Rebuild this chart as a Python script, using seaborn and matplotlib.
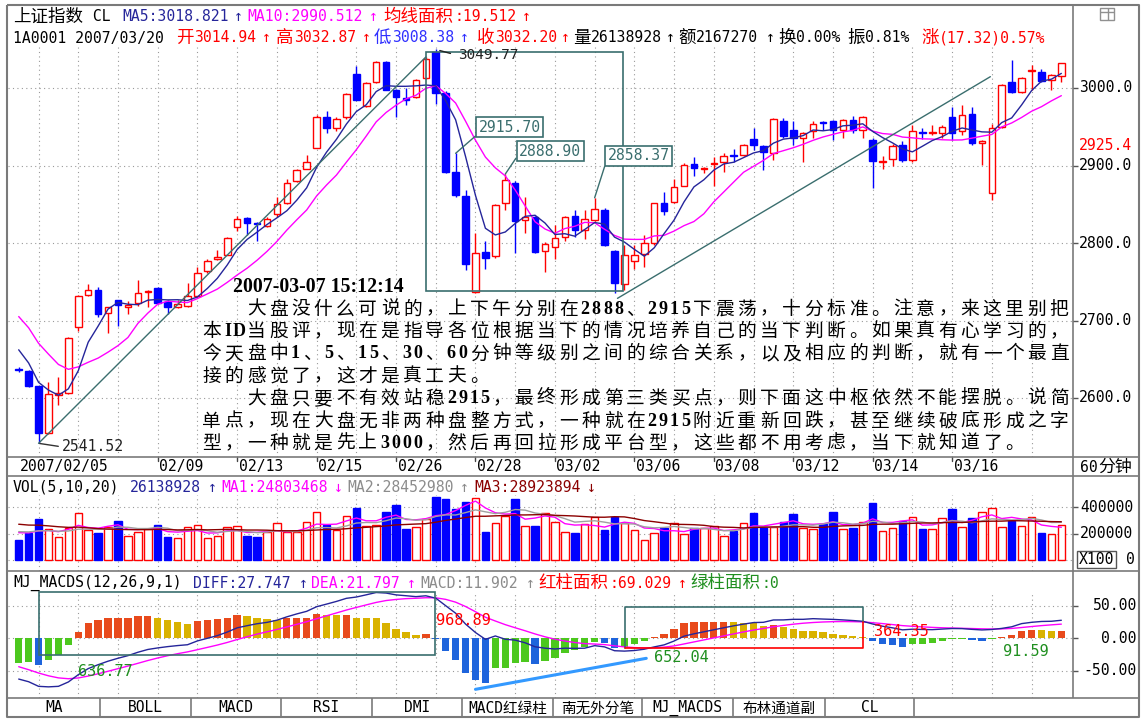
import numpy as np
import pandas as pd
import matplotlib
matplotlib.use("Agg")
import matplotlib.pyplot as plt
from matplotlib.patches import Rectangle
import seaborn as sns

sns.set_theme(style="white")
plt.rcParams['font.family'] = ['DejaVu Sans', 'Noto Sans CJK SC']
plt.rcParams['axes.unicode_minus'] = False

# ---------------- data (60-minute bars, 上证指数) ----------------
opens = [2638, 2635, 2615, 2555, 2604, 2607, 2691, 2733, 2739, 2710,
         2726, 2718, 2722, 2737, 2742, 2724, 2718, 2719, 2731, 2764,
         2779, 2785, 2821, 2832, 2826, 2822, 2837, 2852, 2880, 2896,
         2923, 2963, 2948, 2962, 3018, 2977, 3008, 3033, 2997, 2987,
         2988, 3013, 3046, 2994, 2891, 2861, 2737, 2788, 2783, 2852,
         2878, 2830, 2833, 2790, 2795, 2808, 2835, 2817, 2830, 2843,
         2790, 2747, 2777, 2786, 2800, 2851, 2853, 2874, 2902, 2896,
         2902, 2904, 2913, 2914, 2934, 2925, 2916, 2958, 2946, 2936,
         2944, 2956, 2957, 2946, 2959, 2946, 2933, 2905, 2908, 2926,
         2907, 2943, 2942, 2942, 2963, 2944, 2967, 2929, 2864, 2950,
         3008, 2995, 3022, 3021, 3010, 3014.94]
highs = [2640, 2636, 2616, 2621, 2627, 2679, 2733, 2747, 2743, 2718,
         2727, 2725, 2752, 2740, 2743, 2726, 2726, 2748, 2769, 2780,
         2791, 2808, 2835, 2833, 2827, 2833, 2860, 2883, 2896, 2913,
         2965, 2970, 2962, 2994, 3028, 3008, 3035, 3035, 2999, 3000,
         3012, 3040, 3049.77, 2996, 2915.70, 2868, 2813, 2802, 2850, 2888.90,
         2880, 2860, 2835, 2801, 2823, 2835, 2842, 2843, 2858.37, 2845,
         2791, 2797, 2797, 2810, 2852, 2866, 2883, 2903, 2911, 2898,
         2911, 2916, 2921, 2928, 2948, 2926, 2961, 2961, 2957, 2943,
         2957, 2958, 2959, 2960, 2964, 2964, 2935, 2912, 2928, 2932,
         2952, 2948, 2952, 2952, 2976, 2978, 2975, 2933, 2954, 3005,
         3036, 3014, 3030, 3024, 3018, 3032.87]
lows = [2634, 2614, 2541.52, 2554, 2591, 2605, 2686, 2731, 2705, 2684,
        2693, 2709, 2719, 2718, 2721, 2708, 2716, 2717, 2730, 2761,
        2778, 2784, 2815, 2810, 2803, 2821, 2833, 2850, 2879, 2895,
        2922, 2942, 2945, 2960, 2984, 2975, 3007, 2997, 2962, 2978,
        2987, 3012, 2980, 2890, 2860, 2765, 2735, 2767, 2781, 2843,
        2787, 2813, 2787, 2762, 2779, 2802, 2808, 2805, 2828, 2796,
        2735, 2740, 2767, 2769, 2798, 2836, 2852, 2873, 2886, 2890,
        2873, 2892, 2905, 2912, 2920, 2894, 2907, 2935, 2926, 2905,
        2935, 2946, 2933, 2935, 2942, 2936, 2871, 2896, 2900, 2904,
        2905, 2934, 2939, 2935, 2933, 2940, 2927, 2901, 2855, 2948,
        2994, 2993, 2997, 3008, 2998, 3008.38]
closes = [2636, 2615, 2555, 2605, 2607, 2677, 2732, 2739, 2709, 2717,
          2720, 2720, 2736, 2738, 2722, 2717, 2721, 2731, 2761, 2777,
          2782, 2807, 2831, 2826, 2824, 2831, 2850, 2877, 2894, 2904,
          2963, 2948, 2960, 2992, 2985, 3007, 3033, 2998, 2988, 2985,
          3010, 3038, 2993, 2892, 2862, 2773, 2787, 2781, 2849, 2881,
          2828, 2833, 2788, 2799, 2807, 2833, 2817, 2831, 2844, 2797,
          2749, 2785, 2784, 2800, 2851, 2841, 2872, 2901, 2897, 2897,
          2903, 2912, 2912, 2927, 2927, 2918, 2960, 2938, 2935, 2942,
          2954, 2955, 2946, 2959, 2946, 2963, 2906, 2906, 2925, 2907,
          2944, 2942, 2943, 2950, 2942, 2965, 2929, 2931, 2948, 3004,
          2995, 3013, 3023, 3009, 3017, 3032.20]
prior_closes = [2760, 2755, 2745, 2740, 2740, 2700, 2680, 2655, 2640]

volumes = [151000, 201000, 307000, 234000, 176000, 239000, 352000, 226000, 206000, 251000,
           294000, 183000, 214000, 234000, 264000, 176000, 164000, 247000, 262000, 168000,
           183000, 247000, 257000, 183000, 176000, 214000, 277000, 214000, 214000, 284000,
           365000, 264000, 226000, 335000, 395000, 259000, 264000, 360000, 415000, 231000,
           247000, 307000, 473000, 458000, 382000, 440000, 470000, 214000, 277000, 332000,
           458000, 259000, 257000, 357000, 284000, 214000, 206000, 269000, 327000, 226000,
           327000, 277000, 226000, 151000, 206000, 244000, 277000, 194000, 239000, 239000,
           257000, 181000, 221000, 277000, 352000, 251000, 247000, 284000, 345000, 239000,
           231000, 269000, 360000, 234000, 244000, 284000, 432000, 221000, 239000, 297000,
           327000, 231000, 231000, 319000, 385000, 247000, 319000, 360000, 390000, 247000,
           294000, 257000, 322000, 201000, 194000, 261389]
prior_volumes = [330000, 320000, 340000, 310000, 330000, 320000, 330000, 320000, 330000, 330000,
                 220000, 225000, 220000, 222000, 222000, 210000, 230000, 220000, 220000]

macd_hist = [-38, -37, -41, -34, -26, -10, 10, 23, 28, 31,
             32, 32, 34, 34, 31, 28, 25, 22, 27, 28,
             29, 32, 36, 34, 32, 29, 28.5, 31, 32, 32,
             37, 36, 35.5, 36, 32, 31, 30.5, 23, 14, 9,
             5, 6, -1, -19.5, -34, -54, -64, -68, -46, -45,
             -38, -37, -39.5, -35, -30, -22, -18, -14, -5, -7,
             -15, -13, -9, -4, 2.5, 7, 15, 24, 25, 25,
             25, 25, 24.8, 24, 23, 19, 21, 17, 15, 12,
             11.8, 9, 7, 5, 3.5, 2, -4, -8, -10, -13,
             -9, -8, -7, -4, -1.5, -1, -2.5, -3.5, -1.5, 1.5,
             5, 12, 13, 12.8, 11, 11.902]
macd_dea = [-43.7, -48.3, -53.4, -57.7, -60.9, -62.2, -61.0, -58.1, -54.6, -50.7,
            -46.7, -42.7, -38.5, -34.2, -30.3, -26.8, -23.7, -20.9, -17.5, -14.0,
            -10.4, -6.4, -1.9, 2.4, 6.4, 10.0, 13.6, 17.5, 21.5, 25.5,
            30.1, 34.6, 39.0, 43.5, 47.5, 51.4, 55.2, 58.1, 59.8, 61.0,
            61.6, 62.4, 62.3, 59.9, 55.6, 48.9, 40.9, 32.4, 26.6, 21.0,
            16.2, 11.6, 6.7, 2.3, -1.4, -4.2, -6.5, -8.2, -8.8, -9.7,
            -11.6, -13.2, -14.3, -14.8, -14.5, -13.6, -11.7, -8.7, -5.6, -2.5,
            0.6, 3.7, 6.8, 9.8, 12.7, 15.1, 17.7, 19.8, 21.7, 23.2,
            24.3, 25.1, 25.6, 25.8, 25.6, 25.2, 24.0, 22.6, 21.1, 19.5,
            18.5, 17.6, 16.8, 16.2, 15.8, 15.4, 15.0, 14.6, 14.3, 14.5,
            15.2, 16.6, 18.1, 19.5, 20.7, 21.797]
macd_diff = [-62.7, -66.8, -73.9, -74.7, -73.9, -67.2, -56.0, -46.6, -40.6, -35.2,
             -30.7, -26.7, -21.5, -17.2, -14.8, -12.8, -11.2, -9.9, -4.0, 0.0,
             4.1, 9.6, 16.1, 19.4, 22.4, 24.5, 27.85, 33.0, 37.5, 41.5,
             48.6, 52.6, 56.75, 61.5, 63.5, 66.9, 70.45, 69.6, 66.8, 65.5,
             64.1, 65.4, 61.8, 50.15, 38.6, 21.9, 8.9, -1.6, 3.6, -1.5,
             -2.8, -6.9, -13.05, -15.2, -16.4, -15.2, -15.5, -15.2, -11.3, -13.2,
             -19.1, -19.7, -18.8, -16.8, -13.25, -10.1, -4.2, 3.3, 6.9, 10.0,
             13.1, 16.2, 19.2, 21.8, 24.2, 24.6, 28.2, 28.3, 29.2, 29.2,
             30.2, 29.6, 29.1, 28.3, 27.35, 26.2, 22.0, 18.6, 16.1, 13.0,
             14.0, 13.6, 13.3, 14.2, 15.05, 14.9, 13.75, 12.85, 13.55, 15.25,
             17.7, 22.6, 24.6, 25.9, 26.2, 27.747]

x_labels = ['2007/02/05', '02/09', '02/13', '02/15', '02/26', '02/28',
            '03/02', '03/06', '03/08', '03/12', '03/14', '03/16']
x_label_pos = [0, 14, 22, 30, 38, 46, 54, 62, 70, 78, 86, 94]
price_ticks = [3000, 2900, 2800, 2700, 2600]
vol_ticks = [400000, 200000]
macd_ticks = [50, 0, -50]

# ---------------- derived series ----------------
o = np.array(opens, float); h = np.array(highs, float)
l = np.array(lows, float); c = np.array(closes, float)
v = np.array(volumes, float)
n = len(c)
idx = np.arange(n)
up = c >= o

cs = pd.Series(np.r_[prior_closes, c])
ma5 = cs.rolling(5).mean().to_numpy()[len(prior_closes):]
ma10 = cs.rolling(10).mean().to_numpy()[len(prior_closes):]
vs = pd.Series(np.r_[prior_volumes, v])
vma5 = vs.rolling(5).mean().to_numpy()[len(prior_volumes):]
vma10 = vs.rolling(10).mean().to_numpy()[len(prior_volumes):]
vma20 = vs.rolling(20).mean().to_numpy()[len(prior_volumes):]

hist = np.array(macd_hist, float)
dea = np.array(macd_dea, float)
diff = np.array(macd_diff, float)

# ---------------- layout helpers ----------------
W, H = 1148, 723
fig = plt.figure(figsize=(W / 100, H / 100), dpi=100)
fig.patch.set_facecolor('white')

RED = '#ff0000'; BLUE = '#0000ff'; NAVY = '#25259a'; MAG = '#ff00ff'
GRAY = '#8c8c8c'; DKRED = '#8b0000'; GREEN = '#1f8f1f'; TEAL = '#3a6e6e'
FRAME = '#7a7a7a'; GRID = '#9a9a9a'
MONO = ['DejaVu Sans Mono', 'Noto Sans CJK SC']
CJK = ['Noto Sans CJK SC', 'DejaVu Sans']
PX0, PX1 = 8, 1073
def to_idx(px):
    return (px - 18.7) / 9.93
XLIM = (to_idx(PX0), to_idx(PX1))

def px_axes(x0, y0, x1, y1, z=1):
    a = fig.add_axes([x0 / W, 1 - y1 / H, (x1 - x0) / W, (y1 - y0) / H], zorder=z)
    a.set_facecolor('none')
    for s in a.spines.values():
        s.set_visible(False)
    a.set_xticks([]); a.set_yticks([])
    a.set_xlim(*XLIM)
    return a

def dotted_h(a, y):
    a.axhline(y, color=GRID, lw=0.8, ls=(0, (1, 3)), zorder=0)

def dotted_v(a, y0, y1):
    a.vlines(np.arange(2, n, 4), y0, y1, colors=GRID, lw=0.8, linestyles=(0, (1, 3)), zorder=0)

# ---------------- main price panel ----------------
def price_at(y):
    return 3000 - (y - 88) / 0.775
ax = px_axes(PX0, 5, PX1, 457)
ax.set_ylim(price_at(457), price_at(5))
for p in price_ticks:
    dotted_h(ax, p)
dotted_v(ax, price_at(457), price_at(47))

col = np.where(up, RED, BLUE)
ax.vlines(idx, l, h, colors=col, lw=1, zorder=3)
body_lo = np.minimum(o, c)
body_h = np.maximum(np.abs(c - o), 0.9)
ax.bar(idx, body_h, bottom=body_lo, width=0.66, color=np.where(up, 'white', BLUE),
       edgecolor=col, linewidth=1, zorder=4)
sns.lineplot(x=idx, y=ma10, ax=ax, color=MAG, linewidth=1, zorder=5, legend=False)
sns.lineplot(x=idx, y=ma5, ax=ax, color=NAVY, linewidth=1, zorder=5, legend=False)
ax.set_xlabel(''); ax.set_ylabel(''); ax.set_xticks([]); ax.set_yticks([])

# trend lines, box and labels
ax.plot([2, 41], [2541.52, 3040], color=TEAL, lw=1, zorder=6)
ax.plot([60.3, 97.85], [2728.6, 3014.6], color=TEAL, lw=1, zorder=6)
ax.add_patch(Rectangle((41.0, 2738.5), 19.9, 307.5, fill=False, ec=TEAL, lw=1.2, zorder=6))

def boxed(i, price, text, dx, dy, rel):
    ax.annotate(text, xy=(i, price), xytext=(dx, dy), textcoords='offset pixels',
                ha='center', va='center', color=TEAL, fontsize=10.6, family=MONO, zorder=8,
                bbox=dict(boxstyle='square,pad=0.18', fc='white', ec=TEAL, lw=1.2),
                arrowprops=dict(arrowstyle='-', color=TEAL, lw=1, relpos=rel, shrinkA=0, shrinkB=0))
boxed(44, 2915.70, '2915.70', 54, 26, (0, 0.1))
boxed(49, 2888.90, '2888.90', 45, 23, (0, 0.35))
boxed(58, 2858.37, '2858.37', 44, 42, (0, 0.4))
ax.annotate('3049.77', xy=(42, 3049.77), xytext=(22, -6), textcoords='offset pixels',
            ha='left', va='center', color='#222222', fontsize=10.4, family=MONO, zorder=8,
            arrowprops=dict(arrowstyle='-', color='#222222', lw=1, relpos=(0, 0.5), shrinkA=3, shrinkB=3))
ax.annotate('2541.52', xy=(2, 2541.52), xytext=(23, -3.5), textcoords='offset pixels',
            ha='left', va='center', color='#222222', fontsize=10.6, family=MONO, zorder=8,
            arrowprops=dict(arrowstyle='-', color='#333333', lw=1, relpos=(0, 0.5), shrinkA=0, shrinkB=1))

# ---------------- date row ----------------
axd = px_axes(PX0, 457, PX1, 476)
axd.set_ylim(1, 0)
for pos, lab in zip(x_label_pos, x_labels):
    if pos > 0:
        axd.plot([pos, pos], [0, 0.22], color='#444444', lw=1)
    axd.text(pos + 0.15, 0.52, lab, ha='left', va='center', fontsize=10.6, family=MONO, color='black')

# ---------------- volume panel ----------------
def vol_at(y):
    return (560 - y) / 26.5 * 200000
axv = px_axes(PX0, 476, PX1, 571)
axv.set_ylim(vol_at(571), vol_at(476))
for t in [0] + vol_ticks:
    dotted_h(axv, t)
dotted_v(axv, vol_at(571), vol_at(495))
axv.bar(idx, v, width=0.76, color=np.where(up, 'white', BLUE), edgecolor=col, linewidth=1, zorder=3)
sns.lineplot(x=idx, y=vma5, ax=axv, color=MAG, linewidth=1, zorder=5, legend=False)
sns.lineplot(x=idx, y=vma10, ax=axv, color='#a0a0a0', linewidth=1, zorder=5, legend=False)
sns.lineplot(x=idx, y=vma20, ax=axv, color=DKRED, linewidth=1, zorder=5, legend=False)
axv.set_xlabel(''); axv.set_ylabel(''); axv.set_xticks([]); axv.set_yticks([])

# ---------------- MACD panel ----------------
def m_at(y):
    return (638.3 - y) / 0.65
axm = px_axes(PX0, 571, PX1, 698)
axm.set_ylim(m_at(698), m_at(571))
for t in macd_ticks:
    dotted_h(axm, t)
dotted_v(axm, m_at(698), m_at(592))
prev = np.r_[hist[0], hist[:-1]]
mcol = np.where(hist >= 0, np.where(hist >= prev, '#e84a1c', '#d9b200'),
                np.where(hist < prev, '#1e64dc', '#4cc81e'))
axm.bar(idx, hist, width=0.74, color=mcol, edgecolor='none', zorder=3)
sns.lineplot(x=idx, y=dea, ax=axm, color=MAG, linewidth=1, zorder=5, legend=False)
sns.lineplot(x=idx, y=diff, ax=axm, color=NAVY, linewidth=1, zorder=5, legend=False)
axm.set_xlabel(''); axm.set_ylabel(''); axm.set_xticks([]); axm.set_yticks([])
axm.add_patch(Rectangle((2.05, -25.7), 39.85, 97.4, fill=False, ec=TEAL, lw=1.2, zorder=6))
axm.plot([61.06, 61.06, 85, 85], [-15.4, 48.6, 48.6, 25], color=TEAL, lw=1.2, zorder=6)
axm.plot([61.06, 85, 85], [-15.4, -15.4, 25], color=RED, lw=1.2, zorder=6)
axm.plot([46, 63.2], [-78.5, -30.8], color='#3399ff', lw=2.2, zorder=6)
for lab, xi, yv, cl in [('636.77', 5.97, -51.8, GREEN), ('968.89', 42.0, 28, RED),
                        ('652.04', 64, -28.8, GREEN), ('364.35', 86.1, 11.2, RED),
                        ('91.59', 99.1, -21, GREEN)]:
    axm.text(xi, yv, lab, color=cl, fontsize=11, family=MONO, ha='left', va='center', zorder=7)

# ---------------- overlay: frame, headers, axis labels, tabs, comment ----------------
ov = fig.add_axes([0, 0, 1, 1], zorder=20)
ov.set_xlim(0, W); ov.set_ylim(H, 0); ov.axis('off'); ov.patch.set_visible(False)

def line(xs, ys, colr=FRAME, lw=1.2):
    ov.plot(xs, ys, color=colr, lw=lw, solid_capstyle='butt')

line([7, 1139, 1139, 7, 7], [5, 5, 717, 717, 5], lw=1.5)
line([PX1, PX1], [5, 698])
for yy in (457, 476, 571, 698):
    line([7, 1139], [yy, yy])
for xx in [100, 191, 281, 372, 462, 553, 642, 733, 825, 914]:
    line([xx, xx], [698, 717])
# window icon
ov.add_patch(Rectangle((1100, 8), 14, 12, fill=False, ec='#909090', lw=1))
line([1108, 1108], [8, 20], colr='#909090', lw=1)
line([1100, 1114], [12, 12], colr='#909090', lw=1)

CJK_ADV = 17.8
def segs(items, y, size=10.6):
    # each item: (cjk prefix, ascii rest, x, colour); CJK glyphs drawn a little larger
    for pre, rest, x, cl in items:
        if pre:
            ov.text(x, y, pre, color=cl, fontsize=12.6, family=CJK, ha='left', va='center')
        if rest:
            ov.text(x + CJK_ADV * len(pre), y, rest, color=cl, fontsize=size, family=MONO,
                    ha='left', va='center')

segs([('上证指数', ' CL', 13, 'black'), ('', 'MA5:3018.821', 122, NAVY), ('', '↑', 234, NAVY),
      ('', 'MA10:2990.512', 247, MAG), ('', '↑', 369, MAG), ('均线面积', ':19.512', 383, RED),
      ('', '↑', 522, RED)], 16.5)
segs([('', '1A0001 2007/03/20', 13, 'black'), ('开', '3014.94', 176, RED), ('', '↑', 262, RED),
      ('高', '3032.87', 276, RED), ('', '↑', 362, RED), ('低', '3008.38', 374, '#3030ff'),
      ('', '↑', 460, '#3030ff'), ('收', '3032.20', 477, RED), ('', '↑', 561, RED),
      ('量', '26138928', 573, 'black'), ('', '↑', 666, 'black'), ('额', '2167270', 678, 'black'),
      ('', '↑', 766, 'black'), ('换', '0.00%', 778, 'black'), ('振', '0.81%', 847, 'black'),
      ('涨', '(17.32)0.57%', 921, RED)], 38)
segs([('', 'VOL(5,10,20)', 13, 'black'), ('', '26138928', 130, NAVY), ('', '↑', 208, NAVY),
      ('', 'MA1:24803468', 221, MAG), ('', '↓', 334, MAG), ('', 'MA2:28452980', 347, GRAY),
      ('', '↑', 460, GRAY), ('', 'MA3:28923894', 474, DKRED), ('', '↓', 587, DKRED)], 487)
segs([('', 'MJ_MACDS(12,26,9,1)', 13, 'black'), ('', 'DIFF:27.747', 193, NAVY), ('', '↑', 299, NAVY),
      ('', 'DEA:21.797', 311, MAG), ('', '↑', 407, MAG), ('', 'MACD:11.902', 420, GRAY),
      ('', '↑', 526, GRAY), ('红柱面积', ':69.029', 538, RED), ('', '↑', 678, RED),
      ('绿柱面积', ':0', 690, GREEN)], 583)

# right axis labels
def y_of_price(p):
    return 88 + (3000 - p) * 0.775
for p in price_ticks:
    yy = y_of_price(p)
    line([PX1, PX1 + 5], [yy, yy], colr='#555555', lw=1)
    ov.text(1079, yy, f'{p:.1f}', fontsize=10.6, family=MONO, ha='left', va='center', color='black')
ov.text(1079, y_of_price(2925.4), '2925.4', fontsize=10.6, family=MONO, ha='left', va='center', color=RED)
ov.text(1080, 467, '60', fontsize=10.6, family=MONO, ha='left', va='center', color='black')
ov.text(1080 + 2 * 8.9, 467, '分钟', fontsize=12.2, family=CJK, ha='left', va='center', color='black')
for t in vol_ticks:
    yy = 560 - t / 200000 * 26.5
    line([PX1, PX1 + 5], [yy, yy], colr='#555555', lw=1)
    ov.text(1080, yy, f'{t}', fontsize=10.6, family=MONO, ha='left', va='center', color='black')
ov.text(1135, 560, '0', fontsize=10.6, family=MONO, ha='right', va='center', color='black')
ov.add_patch(Rectangle((1077, 551), 39, 17, fill=False, ec='#555555', lw=1))
ov.text(1096.5, 559.5, 'X100', fontsize=10.6, family=MONO, ha='center', va='center', color='black')
for t in macd_ticks:
    yy = 638.3 - t * 0.65
    line([PX1, PX1 + 5], [yy, yy], colr='#555555', lw=1)
    ov.text(1137, yy, f'{t:.2f}', fontsize=10.6, family=MONO, ha='right', va='center', color='black')

# tabs
tabs = [('MA', 8, 100), ('BOLL', 100, 191), ('MACD', 191, 281), ('RSI', 281, 372), ('DMI', 372, 462),
        ('MACD红绿柱', 462, 553), ('南无外分笔', 553, 642), ('MJ_MACDS', 642, 733),
        ('布林通道副', 733, 825), ('CL', 825, 914)]
for lab, a0, a1 in tabs:
    ov.text((a0 + a1) / 2, 708, lab, fontsize=10.5, family=MONO, ha='center', va='center', color='black')

# comment text (per character, fixed advance like the original)
comment_time = '2007-03-07 15:12:14'
comment_lines = [
    '　　大盘没什么可说的，上下午分别在2888、2915下震荡，十分标准。注意，来这里别把',
    '本ID当股评，现在是指导各位根据当下的情况培养自己的当下判断。如果真有心学习的，',
    '今天盘中1、5、15、30、60分钟等级别之间的综合关系，以及相应的判断，就有一个最直',
    '接的感觉了，这才是真工夫。',
    '　　大盘只要不有效站稳2915，最终形成第三类买点，则下面这中枢依然不能摆脱。说简',
    '单点，现在大盘无非两种盘整方式，一种就在2915附近重新回跌，甚至继续破底形成之字',
    '型，一种就是先上3000，然后再回拉形成平台型，这些都不用考虑，当下就知道了。',
]
ov.text(233, 287, comment_time, fontsize=14.3, family=['Liberation Serif'], weight='bold',
        ha='left', va='center', color='black')
ADV = 22.3
for k, ln in enumerate(comment_lines):
    yy = 309 + k * 22.4
    xx = 200.5
    for ch in ln:
        half = ord(ch) < 128
        w = ADV / 2 if half else ADV
        if ch != '　':
            if half:
                ov.text(xx + w / 2, yy, ch, fontsize=13, family=['Liberation Serif'], weight='bold',
                        ha='center', va='center', color='black')
            else:
                ov.text(xx + w / 2, yy, ch, fontsize=13.5, family=CJK, ha='center', va='center', color='black')
        xx += w

fig.savefig('out.png', dpi=100, facecolor='white')
